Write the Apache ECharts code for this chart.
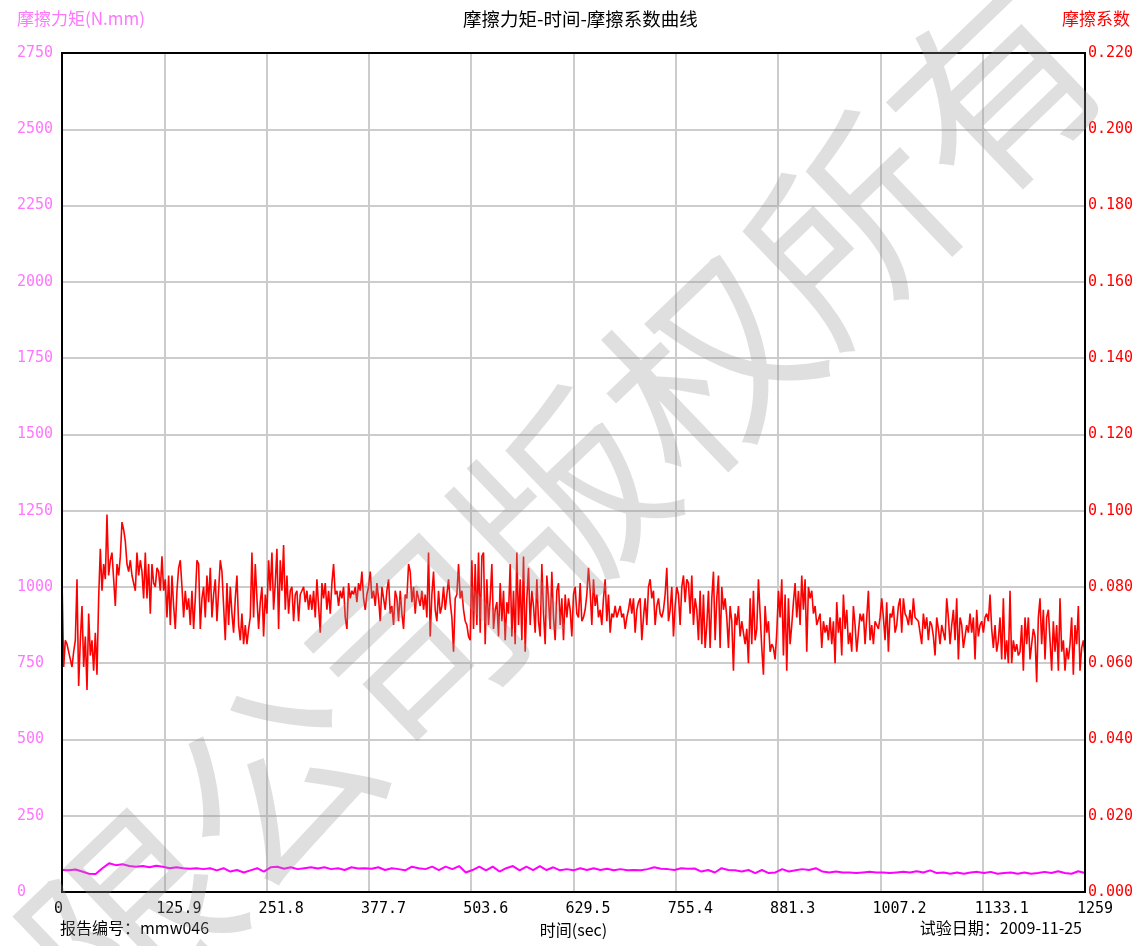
<!DOCTYPE html>
<html>
<head>
<meta charset="utf-8">
<script src="https://cdn.jsdelivr.net/npm/echarts@6/dist/echarts.min.js"></script>
<style>html,body{margin:0;padding:0;background:#fff}#c{width:1140px;height:946px}</style>
</head>
<body>
<div id="c"></div>
<script>
// ---- tick labels ----
const xTickLabels = ['0','125.9','251.8','377.7','503.6','629.5','755.4','881.3','1007.2','1133.1','1259'];
const torqueTickLabels = ['0','250','500','750','1000','1250','1500','1750','2000','2250','2500','2750'];
const coefTickLabels = ['0.000','0.020','0.040','0.060','0.080','0.100','0.120','0.140','0.160','0.180','0.200','0.220'];

// ---- test duration (sec) ----
const testDuration = 1259;

const coefPart1 = [
0.082,0.059,0.066,0.065,0.065,0.061,0.059,0.063,0.066,0.082,
0.054,0.066,0.075,0.059,0.067,0.053,0.073,0.062,0.066,0.058,
0.068,0.057,0.077,0.090,0.079,0.086,0.082,0.099,0.083,0.087,
0.089,0.082,0.075,0.086,0.083,0.088,0.097,0.095,0.092,0.086,
0.084,0.087,0.083,0.083,0.079,0.089,0.083,0.087,0.084,0.077,
0.089,0.077,0.086,0.073,0.086,0.081,0.080,0.085,0.084,0.079,
0.088,0.079,0.082,0.072,0.083,0.070,0.083,0.075,0.069,0.079,
0.085,0.087,0.080,0.072,0.079,0.074,0.077,0.070,0.079,0.069,
0.077,0.087,0.086,0.069,0.077,0.080,0.072,0.083,0.076,0.085,
0.072,0.078,0.082,0.071,0.079,0.087,0.084,0.075,0.066,0.081,
0.070,0.080,0.073,0.068,0.077,0.083,0.070,0.066,0.073,0.065,
0.070,0.065,0.069,0.072,0.089,0.072,0.086,0.077,0.069,0.076,
0.080,0.067,0.078,0.073,0.087,0.079,0.089,0.074,0.081,0.090,
0.069,0.087,0.079,0.091,0.074,0.083,0.073,0.079,0.080,0.071,
0.078,0.079,0.071,0.078,0.079,0.080,0.076,0.079,0.074];
const coefPart2 = [
0.078,0.074,0.079,0.072,0.082,0.075,0.068,0.081,0.077,0.081,
0.074,0.079,0.073,0.081,0.086,0.078,0.079,0.075,0.079,0.077,
0.080,0.072,0.069,0.081,0.077,0.079,0.078,0.080,0.076,0.081,
0.079,0.084,0.077,0.074,0.078,0.080,0.084,0.077,0.079,0.075,
0.081,0.077,0.071,0.080,0.077,0.074,0.079,0.082,0.073,0.075,
0.070,0.079,0.077,0.071,0.079,0.073,0.069,0.078,0.077,0.086,
0.084,0.076,0.080,0.073,0.079,0.077,0.075,0.079,0.074,0.078,
0.072,0.089,0.067,0.078,0.084,0.074,0.071,0.079,0.073,0.075,
0.080,0.074,0.078,0.082,0.076,0.072,0.063,0.077,0.078,0.086,
0.077,0.079,0.074,0.071,0.070,0.067,0.066,0.087,0.069,0.086,
0.070,0.089,0.068,0.088,0.089,0.065,0.082,0.070,0.077,0.086,
0.069,0.074,0.076,0.067,0.081,0.071,0.079,0.066,0.076,0.073,
0.086,0.067,0.079,0.065,0.089,0.070,0.082,0.066,0.088,0.063,
0.077,0.085,0.070,0.079,0.075,0.068,0.082,0.071,0.067,0.086,
0.073,0.065,0.083,0.077,0.069,0.084,0.072,0.066,0.079,0.081,
0.070,0.077,0.066];
const coefPart3 = [
0.078,0.072,0.077,0.074,0.067,0.078,0.080,0.073,0.072,0.081,
0.071,0.072,0.074,0.078,0.085,0.079,0.070,0.082,0.075,0.078,
0.072,0.074,0.070,0.077,0.082,0.071,0.078,0.068,0.073,0.072,
0.075,0.072,0.072,0.075,0.072,0.073,0.069,0.072,0.074,0.077,
0.073,0.077,0.068,0.074,0.076,0.077,0.066,0.072,0.077,0.070,
0.080,0.082,0.077,0.079,0.070,0.075,0.077,0.073,0.072,0.074,
0.078,0.085,0.071,0.074,0.080,0.067,0.075,0.080,0.078,0.070,
0.080,0.083,0.076,0.082,0.081,0.073,0.083,0.070,0.077,0.074,
0.066,0.079,0.065,0.078,0.064,0.070,0.079,0.064,0.077,0.084,
0.066,0.077,0.083,0.064,0.080,0.074,0.077,0.072,0.064,0.075,
0.071,0.058,0.073,0.070,0.075,0.067,0.071,0.068,0.065,0.069,
0.060,0.077,0.065,0.079,0.066,0.069,0.082,0.073,0.064,0.057,
0.075,0.068,0.071,0.063,0.065,0.064,0.061,0.068,0.079,0.072,
0.082,0.062,0.078,0.058,0.077,0.065,0.070,0.076,0.081,0.072,
0.079,0.070,0.083,0.074,0.082,0.063,0.080,0.077,0.079,0.073,
0.075,0.070,0.070];
const coefPart4 = [
0.073,0.064,0.071,0.068,0.070,0.066,0.072,0.065,0.071,0.060,
0.076,0.068,0.072,0.062,0.078,0.069,0.074,0.065,0.068,0.063,
0.075,0.070,0.063,0.068,0.073,0.071,0.073,0.065,0.072,0.079,
0.066,0.070,0.065,0.071,0.070,0.069,0.072,0.077,0.072,0.066,
0.076,0.063,0.073,0.072,0.075,0.068,0.070,0.075,0.077,0.068,
0.077,0.073,0.072,0.070,0.074,0.070,0.077,0.072,0.072,0.071,
0.068,0.065,0.073,0.069,0.072,0.066,0.071,0.070,0.067,0.062,
0.072,0.069,0.065,0.070,0.068,0.066,0.077,0.072,0.065,0.070,
0.074,0.066,0.077,0.061,0.072,0.070,0.064,0.067,0.070,0.068,
0.073,0.068,0.072,0.061,0.074,0.067,0.070,0.071,0.068,0.072,
0.073,0.071,0.078,0.069,0.064,0.070,0.063,0.066,0.072,0.061,
0.077,0.061,0.066,0.060,0.079,0.060,0.066,0.063,0.065,0.062,
0.063,0.070,0.058,0.072,0.065,0.072,0.061,0.065,0.069,0.067,
0.055,0.072,0.077,0.065,0.074,0.061,0.072,0.074,0.066,0.058,
0.071,0.063,0.070,0.058,0.077,0.063,0.066,0.058,0.064,0.061,
0.065,0.072,0.057,0.070,0.065,0.075,0.058,0.064,0.066,0.062];

const torquePart1 = [72,71,74,67,60,59,78,94,88,91,85,83,85,81,86,83,78,81,78,76,78,75,78,71,78,67,72,64,71,78,67,81,83,76,81,75,78,81,77,81,75,78,72,81,77,78,76,81,72,78,75,71,83];
const torquePart2 = [78,75,83,72,83,75,85,64,72,83,71,83,67,78,85,71,83,72,85,72,81,71,75,71,78,72,78,72,76,71,75,71,72,71,75,81,76,75,72,78,76,77,67,72,64,78,72,71,67,72,62];
const torquePart3 = [72,62,64,75,67,71,75,72,78,67,64,67,64,64,62,64,66,64,64,62,64,66,64,68,64,71,62,64,60,64,60,64,66,62,66,60,62,64,60,64,60,62,66,62,68,62,60,68,62];

const coefValues = coefPart1.concat(coefPart2, coefPart3, coefPart4);
const torqueValues = torquePart1.concat(torquePart2, torquePart3);
const coefData = coefValues.map((v, i) => [i * testDuration / (coefValues.length - 1), v]);
const torqueData = torqueValues.map((v, i) => [i * testDuration / (torqueValues.length - 1), v]);

const chart = echarts.init(document.getElementById('c'), null, {renderer: 'canvas'});
const monoFont = '"DejaVu Sans Mono", "Liberation Mono", monospace';
const cjkFont = '"Noto Sans CJK SC", "Noto Sans", sans-serif';
const gridLine = {show: true, lineStyle: {color: '#cccccc', width: 2}};

chart.setOption({
  animation: false,
  backgroundColor: '#ffffff',
  title: [
    {text: '摩擦力矩-时间-摩擦系数曲线', left: 463, top: 10, padding: 0,
     textStyle: {fontSize: 18.5, fontWeight: 'normal', color: '#000', fontFamily: cjkFont}},
    {text: '摩擦力矩(N.mm)', left: 17, top: 10, padding: 0,
     textStyle: {fontSize: 17, fontWeight: 'normal', color: '#ff77ff', fontFamily: cjkFont}},
    {text: '摩擦系数', right: 10, top: 10, padding: 0,
     textStyle: {fontSize: 17, fontWeight: 'normal', color: '#ff0000', fontFamily: cjkFont}},
    {text: '报告编号：mmw046', left: 60, top: 920, padding: 0,
     textStyle: {fontSize: 16, fontWeight: 'normal', color: '#000', fontFamily: cjkFont}},
    {text: '试验日期：2009-11-25', right: 58, top: 920, padding: 0,
     textStyle: {fontSize: 16, fontWeight: 'normal', color: '#000', fontFamily: cjkFont}}
  ],
  grid: {left: 62, right: 55, top: 53, bottom: 54, show: true, z: 5,
         backgroundColor: 'transparent', borderColor: '#000', borderWidth: 2},
  xAxis: {
    type: 'value', min: 0, max: testDuration, interval: 125.9,
    name: '时间(sec)', nameLocation: 'middle', nameGap: 28,
    nameTextStyle: {fontSize: 16, color: '#000', fontFamily: cjkFont},
    axisLine: {show: false}, axisTick: {show: false},
    splitLine: gridLine,
    axisLabel: {
      color: '#000', fontSize: 15, fontFamily: monoFont, margin: 10,
      align: 'left', padding: [0, 0, 0, -8], showMinLabel: true, showMaxLabel: true,
      formatter: v => xTickLabels[Math.round(v / 125.9)]
    }
  },
  yAxis: [
    {
      type: 'value', min: 0, max: 2750, interval: 250, position: 'left',
      axisLine: {show: false}, axisTick: {show: false},
      splitLine: gridLine,
      axisLabel: {
        color: '#ff77ff', fontSize: 15, fontFamily: monoFont, margin: 45, align: 'left',
        formatter: v => torqueTickLabels[Math.round(v / 250)]
      }
    },
    {
      type: 'value', min: 0, max: 0.22, interval: 0.02, position: 'right',
      axisLine: {show: false}, axisTick: {show: false},
      splitLine: {show: false},
      axisLabel: {
        color: '#ff0000', fontSize: 15, fontFamily: monoFont, margin: 3, align: 'left',
        formatter: v => coefTickLabels[Math.round(v / 0.02)]
      }
    }
  ],
  series: [
    {name: '摩擦系数', type: 'line', yAxisIndex: 1, data: coefData, showSymbol: false,
     symbol: 'none', lineStyle: {color: '#ff0000', width: 1.6}, z: 3},
    {name: '摩擦力矩', type: 'line', yAxisIndex: 0, data: torqueData, showSymbol: false,
     symbol: 'none', lineStyle: {color: '#ff00ff', width: 2}, z: 3}
  ],
  graphic: [
    {type: 'text', x: 562, y: 505, rotation: 0.765, silent: true, z: 100,
     style: {text: '限公司版权所有', fontSize: 200, fontFamily: cjkFont, fontWeight: 'normal',
             fill: 'rgba(150,150,150,0.3)', align: 'center', verticalAlign: 'middle',
             textAlign: 'center', textVerticalAlign: 'middle'}}
  ]
});
</script>
</body>
</html>
